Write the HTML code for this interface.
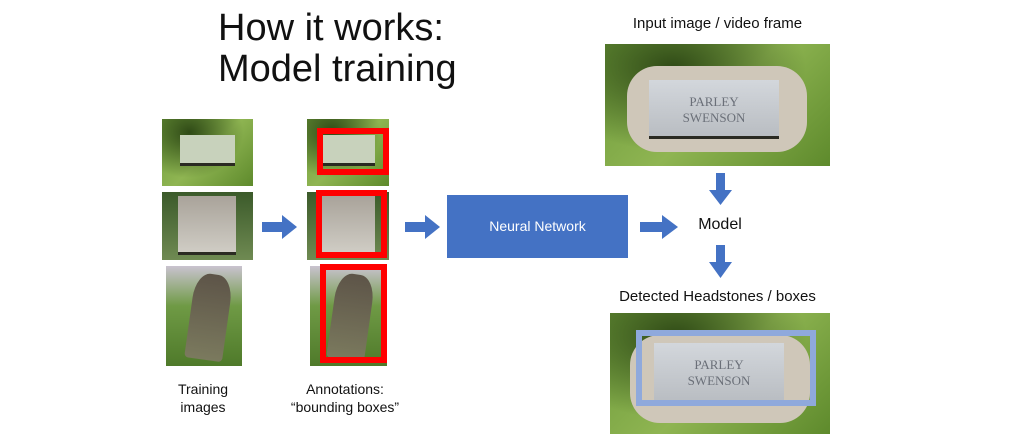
<!DOCTYPE html>
<html><head><meta charset="utf-8"><style>
body{margin:0;width:1024px;height:444px;background:#fff;position:relative;overflow:hidden;font-family:"Liberation Sans",sans-serif;color:#111}
.a{position:absolute}
.t{position:absolute;font-size:15px;text-align:center;white-space:nowrap}
.grass{background:radial-gradient(ellipse at 30% 20%,#2f4a16,transparent 60%),linear-gradient(135deg,#6d9a3a,#8fb552 50%,#5e8a2c)}
.stone{position:absolute;background:linear-gradient(#c9ccc7,#a9aca6);box-shadow:0 3px 0 #2a2a22}
</style></head><body>
<div class="a" style="left:218px;top:8px;font-size:38px;line-height:41px;color:#111">How it works:<br>Model training</div>

<div class="a grass" style="left:162px;top:119px;width:91px;height:67px"><div class="stone" style="left:18px;top:16px;width:55px;height:28px;background:#c8d2bc"></div></div>
<div class="a" style="left:162px;top:192px;width:91px;height:68px;background:linear-gradient(#3b5a2a,#6f8a52)"><div class="stone" style="left:16px;top:4px;width:58px;height:56px;background:linear-gradient(#a9a39a,#cfccc4)"></div></div>
<div class="a" style="left:166px;top:266px;width:76px;height:100px;background:linear-gradient(#c9c3cf,#6f9a45 40%,#4f7a2a)"><div class="a" style="left:24px;top:8px;width:38px;height:86px;background:linear-gradient(#5d5448,#7b7a5e);border-radius:40% 40% 4px 4px/30% 30% 4px 4px;transform:rotate(8deg)"></div></div>

<div class="a grass" style="left:307px;top:119px;width:82px;height:67px"><div class="stone" style="left:16px;top:16px;width:52px;height:28px;background:#c8d2bc"></div></div>
<div class="a" style="left:307px;top:192px;width:82px;height:68px;background:linear-gradient(#3b5a2a,#6f8a52)"><div class="stone" style="left:14px;top:4px;width:54px;height:56px;background:linear-gradient(#a9a39a,#cfccc4)"></div></div>
<div class="a" style="left:310px;top:266px;width:77px;height:100px;background:linear-gradient(#c9c3cf,#6f9a45 40%,#4f7a2a)"><div class="a" style="left:22px;top:8px;width:38px;height:86px;background:linear-gradient(#5d5448,#7b7a5e);border-radius:40% 40% 4px 4px/30% 30% 4px 4px;transform:rotate(8deg)"></div></div>
<div class="a" style="left:317px;top:128px;width:60px;height:35px;border:6px solid #f00"></div>
<div class="a" style="left:316px;top:190px;width:59px;height:56px;border:6px solid #f00"></div>
<div class="a" style="left:320px;top:264px;width:55px;height:87px;border:6px solid #f00"></div>

<div class="t" style="left:163px;top:380px;width:80px;line-height:18px;font-size:14px">Training<br>images</div>
<div class="t" style="left:285px;top:380px;width:120px;line-height:18px;font-size:14px">Annotations:<br>“bounding boxes”</div>

<div class="a" style="left:447px;top:195px;width:181px;height:63px;background:#4472c4;color:#fff;font-size:14px;line-height:63px;text-align:center">Neural Network</div>

<svg class="a" style="left:0;top:0" width="1024" height="444">
<g fill="#4472c4">
<polygon points="262,222 282,222 282,215 297,227 282,239 282,232 262,232"/>
<polygon points="405,222 425,222 425,215 440,227 425,239 425,232 405,232"/>
<polygon points="640,222 662,222 662,215 678,227 662,239 662,232 640,232"/>
<polygon points="716,173 725,173 725,190 732,190 720.5,205 709,190 716,190"/>
<polygon points="716,245 725,245 725,262 732,262 720.5,278 709,262 716,262"/>
</g></svg>
<div class="t" style="left:685px;top:216px;width:70px;font-size:16px">Model</div>

<div class="t" style="left:590px;top:15px;width:255px">Input image / video frame</div>
<div class="a grass" style="left:605px;top:44px;width:225px;height:122px">
<div class="a" style="left:22px;top:22px;width:180px;height:86px;background:#cfc7b9;border-radius:30px"></div>
<div class="stone" style="left:44px;top:36px;width:130px;height:56px;background:linear-gradient(#d3d7dc,#b9bdc2)"></div>
<div class="a" style="left:44px;top:50px;width:130px;text-align:center;font-size:13px;color:#6a6f78;font-family:'Liberation Serif',serif">PARLEY<br>SWENSON</div></div>

<div class="t" style="left:590px;top:288px;width:255px">Detected Headstones / boxes</div>
<div class="a grass" style="left:610px;top:313px;width:220px;height:121px">
<div class="a" style="left:20px;top:22px;width:180px;height:88px;background:#cfc7b9;border-radius:30px"></div>
<div class="stone" style="left:44px;top:30px;width:130px;height:58px;background:linear-gradient(#d3d7dc,#b9bdc2)"></div>
<div class="a" style="left:44px;top:44px;width:130px;text-align:center;font-size:13px;color:#6a6f78;font-family:'Liberation Serif',serif">PARLEY<br>SWENSON</div>
<div class="a" style="left:26px;top:17px;width:168px;height:64px;border:6px solid #8fa9dc"></div></div>
</body></html>
